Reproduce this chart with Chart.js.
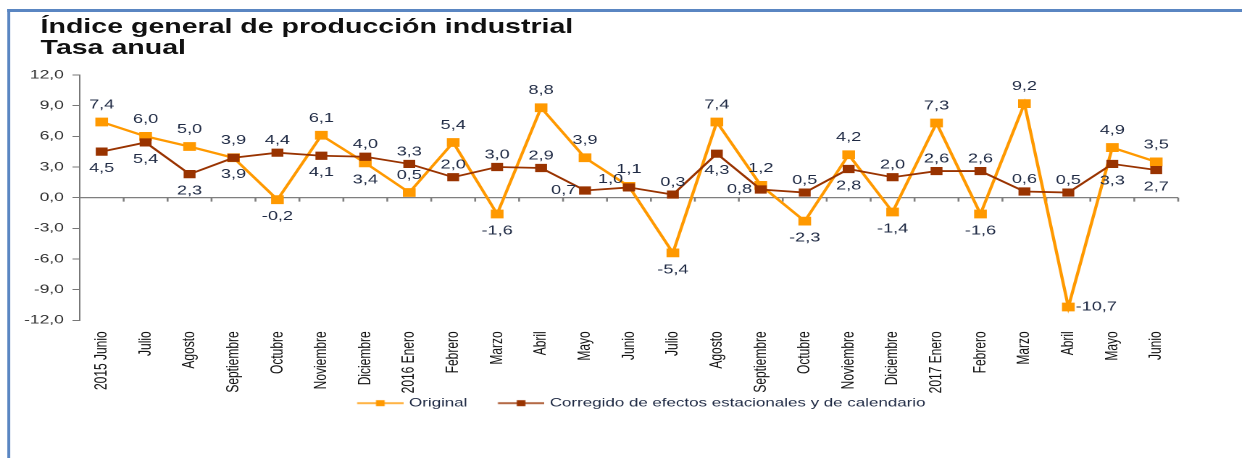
<!DOCTYPE html>
<html>
<head>
<meta charset="utf-8">
<script src="https://cdn.jsdelivr.net/npm/chart.js@4.4.0/dist/chart.umd.min.js"></script>
<style>
html, body { margin: 0; padding: 0; background: #fff; overflow: hidden; }
/* the reference picture is stretched sideways, so the whole stage is too */
#stage { position: absolute; left: 0; top: 0; width: 857px; height: 458px; transform: scaleX(1.4492); transform-origin: 0 0; }
#frame { position: absolute; left: 5px; top: 9px; right: -20px; bottom: -20px; border-top: 3px solid #5a86c2; border-left: 2px solid #5a86c2; }
#title { position: absolute; left: 28px; top: 16px; font: bold 19.7px/21px "Liberation Sans", Arial, sans-serif; color: #111; }
canvas { position: absolute; left: 0; top: 0; }
</style>
</head>
<body>
<div id="stage">
  <div id="frame"></div>
  <div id="title">Índice general de producción industrial<br>Tasa anual</div>
  <canvas id="chart" width="857" height="458"></canvas>
</div>
<script>
const months = ['2015 Junio', 'Julio', 'Agosto', 'Septiembre', 'Octubre', 'Noviembre', 'Diciembre',
    '2016 Enero', 'Febrero', 'Marzo', 'Abril', 'Mayo', 'Junio', 'Julio', 'Agosto', 'Septiembre',
    'Octubre', 'Noviembre', 'Diciembre', '2017 Enero', 'Febrero', 'Marzo', 'Abril', 'Mayo', 'Junio'];
const original = [7.4, 6.0, 5.0, 3.9, -0.2, 6.1, 3.4, 0.5, 5.4, -1.6, 8.8, 3.9, 1.1, -5.4, 7.4, 1.2,
    -2.3, 4.2, -1.4, 7.3, -1.6, 9.2, -10.7, 4.9, 3.5];
const corregido = [4.5, 5.4, 2.3, 3.9, 4.4, 4.1, 4.0, 3.3, 2.0, 3.0, 2.9, 0.7, 1.0, 0.3, 4.3, 0.8,
    0.5, 2.8, 2.0, 2.6, 2.6, 0.6, 0.5, 3.3, 2.7];
const yMin = -12, yMax = 12, yStep = 3;

// where each value label sits: t = above, b = below, l = left, r = right, lt = left and up
const origPlace = ['t','t','t','t','b','t','b','t','t','b','t','t','t','b','t','t','b','t','b','t','b','t','r','t','t'];
const corrPlace = ['b','b','b','b','t','b','t','t','t','t','t','l','lt','t','b','l','t','b','t','t','t','t','t','b','b'];
const placements = [origPlace, corrPlace];

const ORANGE = '#ff9900';
const BROWN = '#993300';
const fmt = v => v.toFixed(1).replace('.', ',');

Chart.defaults.font.family = '"Liberation Sans", Arial, sans-serif';

// legend icon: blank gap on the left (spacing between items), then line with a square
function legendIcon(color) {
    const c = document.createElement('canvas');
    c.width = 51; c.height = 8;
    const g = c.getContext('2d');
    g.strokeStyle = color; g.lineWidth = 1.5;
    g.beginPath(); g.moveTo(19, 4); g.lineTo(51, 4); g.stroke();
    g.fillStyle = color;
    g.fillRect(32, 1, 6, 6);
    return c;
}
const icons = [legendIcon(ORANGE), legendIcon(BROWN)];

// zero line with little ticks between the months
const zeroAxis = {
    id: 'zeroAxis',
    beforeDatasetsDraw(chart) {
        const {ctx, chartArea: a, scales: {y}} = chart;
        const y0 = y.getPixelForValue(0);
        const step = (a.right - a.left) / months.length;
        ctx.save();
        ctx.strokeStyle = '#7f7f7f';
        ctx.lineWidth = 1.3;
        ctx.beginPath();
        ctx.moveTo(a.left, y0); ctx.lineTo(a.right, y0);
        for (let i = 1; i <= months.length; i++) {
            const x = a.left + i * step;
            ctx.moveTo(x, y0); ctx.lineTo(x, y0 + 4);
        }
        ctx.stroke();
        ctx.restore();
    }
};

const pointLabels = {
    id: 'pointLabels',
    afterDatasetsDraw(chart) {
        const ctx = chart.ctx;
        ctx.save();
        ctx.font = '12.5px "Liberation Sans", Arial, sans-serif';
        ctx.fillStyle = '#1f2a44';
        ctx.textBaseline = 'middle';
        chart.data.datasets.forEach((ds, i) => {
            const meta = chart.getDatasetMeta(i);
            const place = placements[i];
            const up = i === 0 ? 17 : 12;
            meta.data.forEach((pt, j) => {
                let x = pt.x, y = pt.y;
                ctx.textAlign = 'center';
                switch (place[j]) {
                    case 't': y -= up; break;
                    case 'b': y += 17; break;
                    case 'l': ctx.textAlign = 'right'; x -= 6; break;
                    case 'r': ctx.textAlign = 'left'; x += 5; break;
                    case 'lt': ctx.textAlign = 'right'; x -= 4; y -= 8; break;
                }
                ctx.fillText(fmt(ds.data[j]), x, y);
            });
        });
        ctx.restore();
    }
};

new Chart(document.getElementById('chart'), {
    type: 'line',
    data: {
        labels: months,
        datasets: [{
            label: 'Original',
            data: original,
            borderColor: ORANGE,
            backgroundColor: ORANGE,
            borderWidth: 2.2,
            pointStyle: 'rect',
            pointRadius: 6.2,
            pointBorderWidth: 0,
            order: 1
        }, {
            label: 'Corregido de efectos estacionales y de calendario',
            data: corregido,
            borderColor: BROWN,
            backgroundColor: BROWN,
            borderWidth: 1.8,
            pointStyle: 'rect',
            pointRadius: 5.8,
            pointBorderWidth: 0,
            order: 0
        }]
    },
    options: {
        responsive: false,
        animation: false,
        devicePixelRatio: 2,
        layout: { padding: { top: 75, left: 13, right: 44, bottom: 39 } },
        plugins: {
            tooltip: { enabled: false },
            legend: {
                position: 'bottom',
                fullSize: false,
                labels: {
                    usePointStyle: true,
                    pointStyleWidth: 47,
                    padding: 4,
                    color: '#1f2a44',
                    font: { size: 11.7 },
                    generateLabels: chart => chart.data.datasets.map((ds, i) => ({
                        text: ds.label,
                        pointStyle: icons[i],
                        fillStyle: ds.borderColor,
                        strokeStyle: ds.borderColor,
                        lineWidth: 0,
                        hidden: false,
                        datasetIndex: i,
                        fontColor: '#1f2a44'
                    }))
                }
            }
        },
        scales: {
            x: {
                offset: true,
                grid: { display: false },
                border: { display: false },
                ticks: {
                    autoSkip: false, minRotation: 90, maxRotation: 90,
                    padding: 3, color: '#111', font: { size: 12 }
                },
                afterFit: s => { s.height = 73; }
            },
            y: {
                min: yMin, max: yMax,
                ticks: { stepSize: yStep, color: '#333', font: { size: 12 }, padding: 6, callback: v => fmt(v) },
                grid: { drawOnChartArea: false, tickLength: 5, color: '#777' },
                border: { color: '#777', width: 1 },
                afterFit: s => { s.width = 42; }
            }
        }
    },
    plugins: [zeroAxis, pointLabels]
});
</script>
</body>
</html>
